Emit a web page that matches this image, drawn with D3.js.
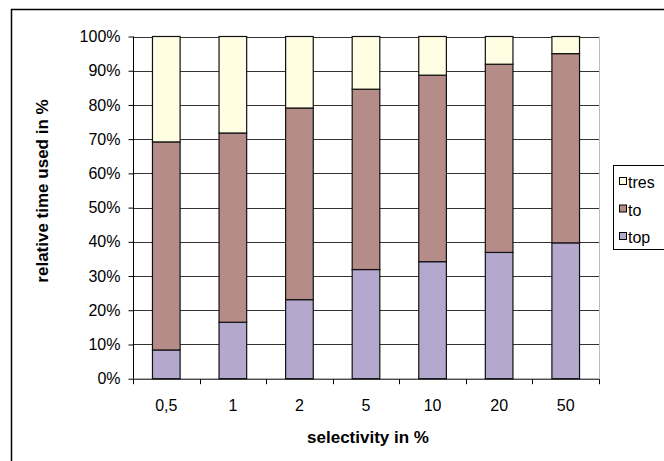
<!doctype html>
<html>
<head>
<script type='text/javascript' src='https://d3js.org/d3.v7.min.js'></script>
<style>
body { margin:0; background:#fff; }
text { font-family: 'Liberation Sans', Arial, sans-serif; }
</style>
</head>
<body>
<script>
var width = 664, height = 461;

// data (percent of total time)
var categories = ['0,5', '1', '2', '5', '10', '20', '50'];
var series = ['top', 'to', 'tres'];
var topVals  = [8.4, 16.5, 23.1, 31.9, 34.2, 36.9, 39.7];
var toVals   = [60.8, 55.3, 56.0, 52.7, 54.5, 55.0, 55.3];
var tresVals = [30.8, 28.2, 20.9, 15.4, 11.3, 8.1, 5.0];
var yTicks = [0, 10, 20, 30, 40, 50, 60, 70, 80, 90, 100];
var colors = {top: '#b5a8cf', to: '#b58c88', tres: '#fffde2'};

var rows = categories.map(function(c, i) {
  return {cat: c, top: topVals[i], to: toVals[i], tres: tresVals[i]};
});

var svg = d3.select('body').append('svg').attr('width', width).attr('height', height);

// outer chart frame (runs off the right/bottom edge)
svg.append('rect').attr('x', 11.5).attr('y', 9.5).attr('width', 700).attr('height', 500)
  .attr('fill', 'none').attr('stroke', '#000').attr('stroke-width', 1.5);

var pLeft = 133, pRight = 599, pTop = 36.5, pBottom = 378.7;

var x = d3.scaleBand().domain(categories).range([pLeft, pRight]).paddingInner(0.585).paddingOuter(0.2925);
var xb = d3.scaleBand().domain(categories).range([pLeft, pRight]);
var y = d3.scaleLinear().domain([0, 100]).range([pBottom, pTop]);

// gridlines
svg.append('g').selectAll('line').data(yTicks.slice(1)).join('line')
  .attr('x1', pLeft).attr('x2', pRight)
  .attr('y1', function(d) { return Math.round(y(d)) + 0.5; })
  .attr('y2', function(d) { return Math.round(y(d)) + 0.5; })
  .attr('stroke', '#333').attr('stroke-width', 1);

// right border of plot
svg.append('line').attr('x1', pRight + 0.5).attr('x2', pRight + 0.5).attr('y1', pTop).attr('y2', pBottom)
  .attr('stroke', '#bbb');

// stacked bars
var stack = d3.stack().keys(series)(rows);
svg.append('g').selectAll('g').data(stack).join('g')
  .attr('fill', function(d) { return colors[d.key]; })
  .selectAll('rect').data(function(d) { return d; }).join('rect')
  .attr('x', function(d) { return x(d.data.cat); })
  .attr('width', x.bandwidth())
  .attr('y', function(d) { return y(d[1]); })
  .attr('height', function(d) { return y(d[0]) - y(d[1]); })
  .attr('stroke', '#111').attr('stroke-width', 1.2);

// y axis
var yAxis = d3.axisLeft(y).tickValues(yTicks).tickSize(5).tickPadding(8)
  .tickFormat(function(d) { return d + '%'; });
var gy = svg.append('g').attr('transform', 'translate(' + (pLeft + 0.5) + ',0)').call(yAxis);
gy.selectAll('text').attr('font-size', 16).attr('fill', '#000')
  .attr('font-family', "'Liberation Sans', Arial, sans-serif");
gy.selectAll('line, path').attr('stroke', '#000');
gy.select('.domain').attr('d', 'M0,' + pTop + 'V' + pBottom);

// x axis: ticks sit between categories
var gx = svg.append('g').attr('transform', 'translate(0,' + (pBottom + 0.5) + ')');
gx.append('line').attr('x1', pLeft).attr('x2', pRight).attr('stroke', '#000');
gx.selectAll('line.tk').data(categories.concat(['end'])).join('line').attr('class', 'tk')
  .attr('x1', function(d, i) { return Math.round(pLeft + i * xb.bandwidth()) + 0.5; })
  .attr('x2', function(d, i) { return Math.round(pLeft + i * xb.bandwidth()) + 0.5; })
  .attr('y1', 0).attr('y2', 5).attr('stroke', '#000');
gx.selectAll('text').data(categories).join('text')
  .attr('x', function(d) { return xb(d) + xb.bandwidth() / 2; })
  .attr('y', 32).attr('text-anchor', 'middle').attr('font-size', 16)
  .text(function(d) { return d; });

// axis titles
svg.append('text').attr('x', 368).attr('y', 443).attr('text-anchor', 'middle')
  .attr('font-size', 17).attr('font-weight', 'bold').text('selectivity in %');
svg.append('text').attr('transform', 'translate(48,191) rotate(-90)').attr('text-anchor', 'middle')
  .attr('font-size', 17).attr('font-weight', 'bold').text('relative time used in %');

// legend
var lg = svg.append('g');
lg.append('rect').attr('x', 613.5).attr('y', 165.5).attr('width', 60).attr('height', 84)
  .attr('fill', '#fff').attr('stroke', '#000');
var legendKeys = ['tres', 'to', 'top'];
var li = lg.selectAll('g').data(legendKeys).join('g')
  .attr('transform', function(d, i) { return 'translate(619,' + (182 + i * 27.5) + ')'; });
li.append('rect').attr('x', 0.5).attr('y', -4.5).attr('width', 7).attr('height', 7)
  .attr('fill', function(d) { return colors[d]; }).attr('stroke', '#000');
li.append('text').attr('x', 9).attr('y', 6).attr('font-size', 16).text(function(d) { return d; });
</script>
</body>
</html>
